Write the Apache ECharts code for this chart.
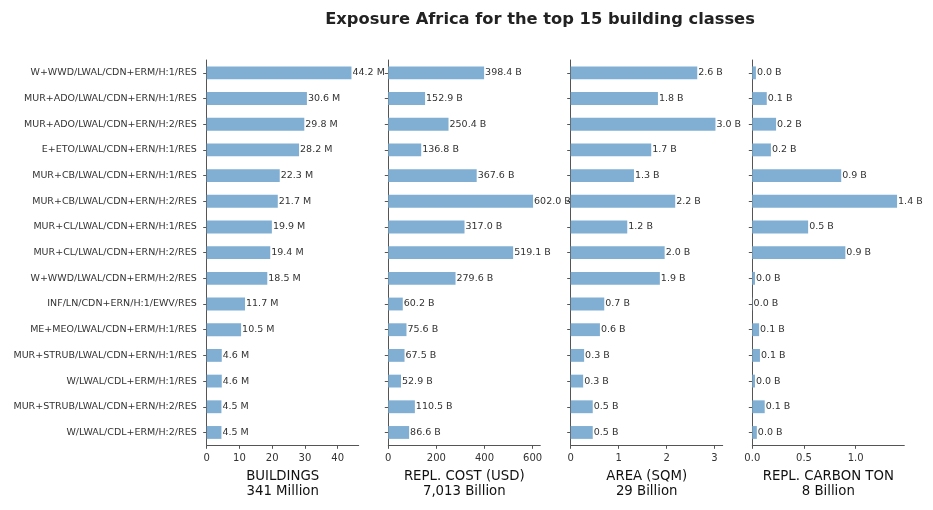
<!DOCTYPE html>
<html>
<head>
<meta charset="utf-8">
<script src="https://cdn.jsdelivr.net/npm/echarts@6/dist/echarts.min.js"></script>
<style>html,body{margin:0;padding:0;background:#fff}#c{width:933px;height:510px}</style>
</head>
<body>
<div id="c"></div>
<script>
const categories = [
  "W+WWD/LWAL/CDN+ERM/H:1/RES",
  "MUR+ADO/LWAL/CDN+ERN/H:1/RES",
  "MUR+ADO/LWAL/CDN+ERN/H:2/RES",
  "E+ETO/LWAL/CDN+ERN/H:1/RES",
  "MUR+CB/LWAL/CDN+ERN/H:1/RES",
  "MUR+CB/LWAL/CDN+ERN/H:2/RES",
  "MUR+CL/LWAL/CDN+ERN/H:1/RES",
  "MUR+CL/LWAL/CDN+ERN/H:2/RES",
  "W+WWD/LWAL/CDN+ERM/H:2/RES",
  "INF/LN/CDN+ERN/H:1/EWV/RES",
  "ME+MEO/LWAL/CDN+ERM/H:1/RES",
  "MUR+STRUB/LWAL/CDN+ERN/H:1/RES",
  "W/LWAL/CDL+ERM/H:1/RES",
  "MUR+STRUB/LWAL/CDN+ERN/H:2/RES",
  "W/LWAL/CDL+ERM/H:2/RES"
];
const buildings = [44.2, 30.6, 29.8, 28.2, 22.3, 21.7, 19.9, 19.4, 18.5, 11.7, 10.5, 4.6, 4.6, 4.5, 4.5];
const replCost = [398.4, 152.9, 250.4, 136.8, 367.6, 602.0, 317.0, 519.1, 279.6, 60.2, 75.6, 67.5, 52.9, 110.5, 86.6];
const area = [2.64, 1.82, 3.02, 1.68, 1.32, 2.18, 1.18, 1.96, 1.86, 0.70, 0.61, 0.28, 0.26, 0.46, 0.46];
const carbon = [0.035, 0.14, 0.23, 0.18, 0.86, 1.40, 0.54, 0.90, 0.026, 0.003, 0.066, 0.074, 0.026, 0.12, 0.044];

const buildingsTicks = [0, 10, 20, 30, 40];
const costTicks = [0, 200, 400, 600];
const areaTicks = [0, 1, 2, 3];
const carbonTicks = [0.0, 0.5, 1.0];
const carbonTickLabels = ["0.0", "0.5", "1.0"];

const panelNames = ["BUILDINGS\n341 Million", "REPL. COST (USD)\n7,013 Billion", "AREA (SQM)\n29 Billion", "REPL. CARBON TON\n8 Billion"];
const units = [" M", " B", " B", " B"];
const title = "Exposure Africa for the top 15 building classes";

const seriesData = [buildings, replCost, area, carbon];
const ticks = [buildingsTicks, costTicks, areaTicks, carbonTicks];
const tickFmt = [v => String(v), v => String(v), v => String(v), v => carbonTickLabels[carbonTicks.indexOf(v)] ?? String(v)];

const lefts = [206.7, 388.3, 570.7, 752.3];
const width = 152;
const axisColor = '#555';
const textColor = '#333';
const font = 'DejaVu Sans';

const grids = [], xAxes = [], yAxes = [], series = [];
for (let i = 0; i < 4; i++) {
  grids.push({ left: lefts[i], top: 60, width: width, height: 385.3, containLabel: false });
  const mx = Math.max(...seriesData[i]) * 1.05;
  xAxes.push({
    type: 'value', gridIndex: i, min: 0, max: mx,
    splitLine: { show: false },
    axisLine: { show: true, lineStyle: { color: axisColor, width: 1 } },
    axisTick: { show: true, length: 3.5, lineStyle: { color: axisColor }, customValues: ticks[i] },
    axisLabel: { show: true, customValues: ticks[i], formatter: tickFmt[i], color: textColor, fontSize: 10, fontFamily: font, margin: 8 },
    name: panelNames[i], nameLocation: 'middle', nameGap: 23,
    nameTextStyle: { color: '#111', fontSize: 13.3, fontFamily: font, lineHeight: 15.5 }
  });
  yAxes.push({
    type: 'category', gridIndex: i, data: categories, inverse: true,
    axisLine: { show: true, lineStyle: { color: axisColor, width: 1 } },
    axisTick: { show: true, alignWithLabel: true, length: 3.5, lineStyle: { color: axisColor } },
    axisLabel: { show: i === 0, interval: 0, color: textColor, fontSize: 9.5, fontFamily: font, margin: 10 },
    splitLine: { show: false }
  });
  const u = units[i];
  series.push({
    type: 'bar', xAxisIndex: i, yAxisIndex: i, data: seriesData[i],
    barWidth: '50%',
    itemStyle: { color: '#80afd3' },
    label: { show: true, position: 'right', distance: 1, color: textColor, fontSize: 9.5, fontFamily: font,
             formatter: p => p.value.toFixed(1) + u },
    silent: true, animation: false
  });
}

const chart = echarts.init(document.getElementById('c'), null, { renderer: 'canvas' });
chart.setOption({
  animation: false,
  backgroundColor: '#fff',
  title: { text: title, left: 535, top: 7, textAlign: 'center',
           textStyle: { fontSize: 16.3, fontWeight: 'bold', color: '#222', fontFamily: font } },
  grid: grids, xAxis: xAxes, yAxis: yAxes, series: series
});
</script>
</body>
</html>
